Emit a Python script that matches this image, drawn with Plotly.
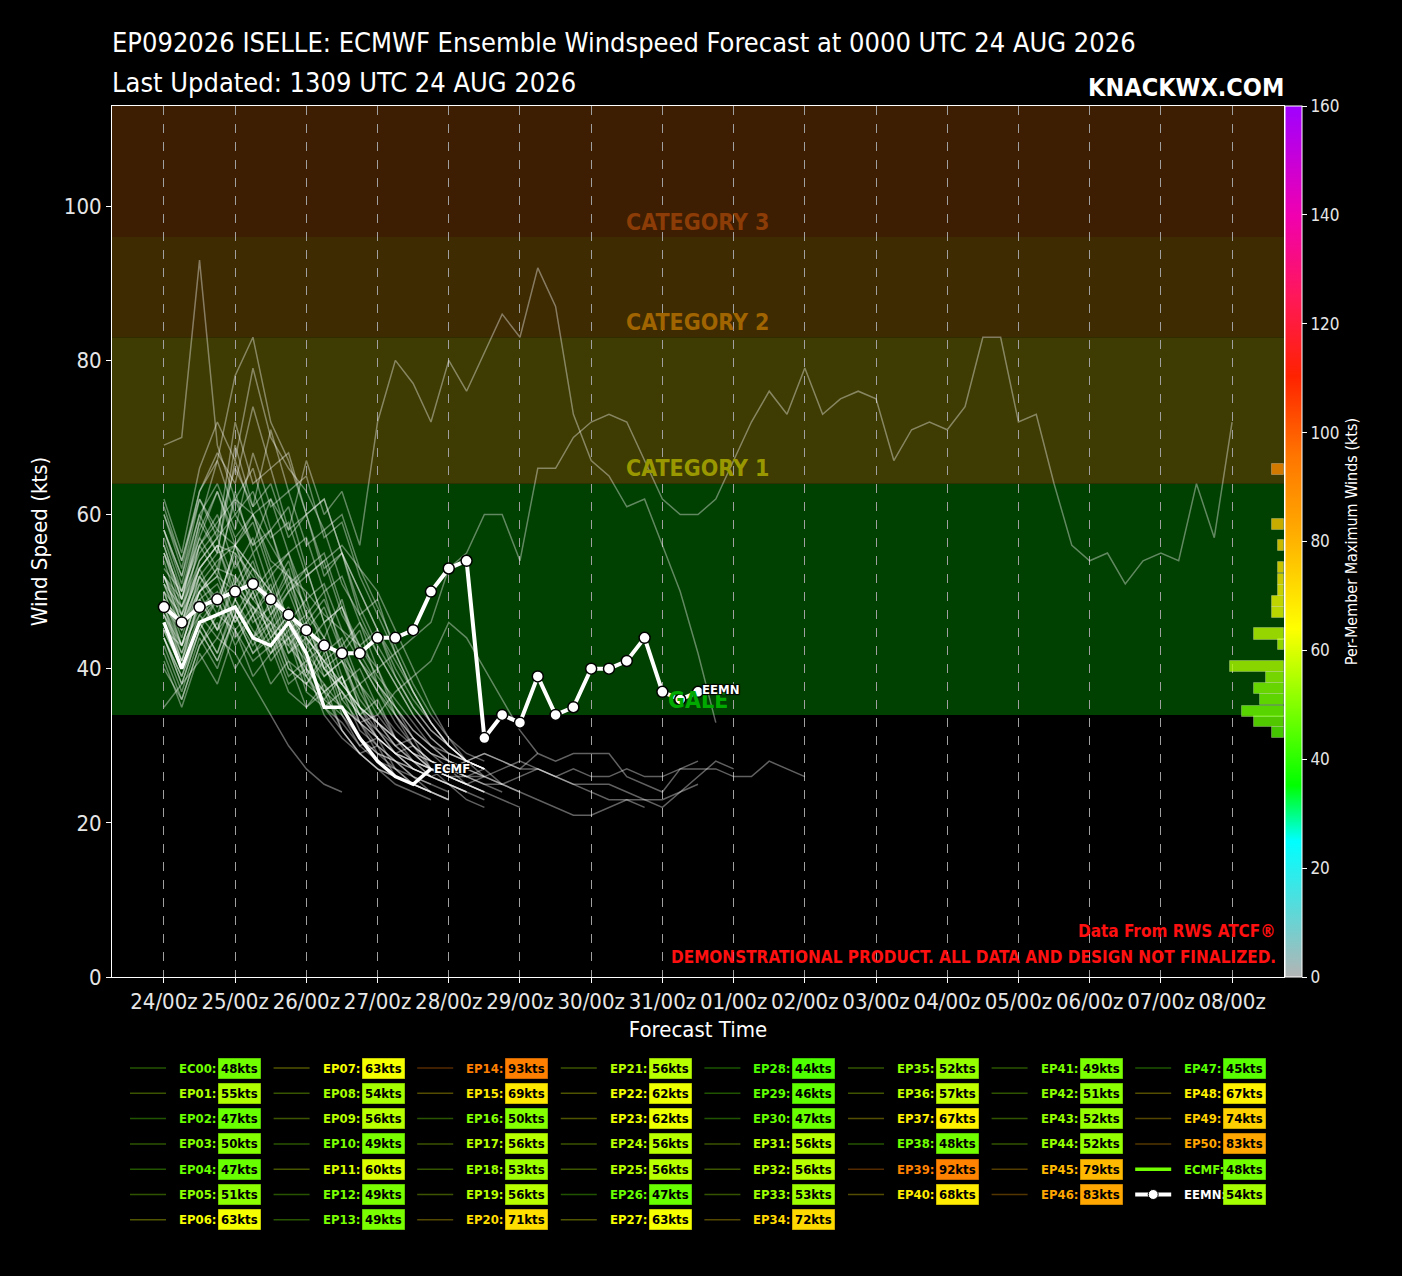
import pandas as pd
import plotly.graph_objects as go
from plotly.colors import sample_colorscale, unlabel_rgb

# ---- data -------------------------------------------------------------
times = pd.date_range("2026-08-24 00:00", periods=61, freq="6h")
tick_days = pd.date_range("2026-08-24", periods=16, freq="D")
tick_labels = ["24/00z", "25/00z", "26/00z", "27/00z", "28/00z", "29/00z", "30/00z", "31/00z",
               "01/00z", "02/00z", "03/00z", "04/00z", "05/00z", "06/00z", "07/00z", "08/00z"]

ecmf = [46, 40, 46, 47, 48, 44, 43, 46, 42, 35, 35, 31, 28, 26, 25, 27]
eemn = [48, 46, 48, 49, 50, 51, 49, 47, 45, 43, 42, 42, 44, 44, 45, 50, 53, 54, 31, 34,
        33, 39, 34, 35, 40, 40, 41, 44, 37, 36, 37]

ec00 = [46, 40, 46, 47, 48, 44, 43, 46, 42, 35, 35, 31, 28, 26, 25, 27]
ep01 = [50, 44, 52, 49, 55, 47, 51, 44, 46, 40, 42, 35, 33, 30, 31, 27, 26, 25, 24]
ep02 = [44, 38, 45, 41, 47, 43, 46, 40, 38, 41, 34, 30, 31, 27, 26, 24, 23]
ep03 = [47, 43, 50, 45, 48, 44, 49, 42, 44, 37, 39, 33, 31, 29, 28, 26, 25, 24]
ep04 = [40, 36, 43, 47, 45, 39, 42, 44, 37, 35, 32, 29, 30, 26, 25, 24, 23]
ep05 = [48, 41, 49, 51, 46, 50, 44, 47, 41, 43, 36, 38, 32, 29, 28, 26, 27, 25, 24]
ep06 = [54, 47, 56, 52, 63, 55, 58, 50, 53, 46, 48, 41, 37, 34, 31, 29, 28, 27]
ep07 = [56, 49, 58, 63, 57, 60, 53, 55, 47, 50, 42, 38, 40, 34, 30, 28, 27, 26]
ep08 = [50, 43, 51, 47, 54, 49, 52, 45, 47, 40, 38, 35, 31, 29, 30, 27, 26, 25]
ep09 = [52, 46, 53, 48, 56, 51, 48, 53, 43, 46, 39, 34, 36, 31, 28, 27, 26, 26, 27, 25, 24]
ep10 = [45, 40, 46, 42, 49, 44, 47, 40, 38, 42, 35, 31, 29, 27, 25, 24, 23]
ep11 = [55, 48, 56, 60, 53, 57, 50, 54, 47, 44, 49, 41, 37, 33, 30, 28, 27, 26]
ep12 = [46, 41, 47, 44, 49, 45, 42, 46, 38, 36, 39, 33, 29, 28, 26, 25, 24]
ep13 = [44, 38, 45, 49, 43, 47, 41, 44, 39, 35, 37, 32, 30, 28, 27, 26]
ep14 = [69, 70, 93, 69, 62, 66, 58, 61, 53, 55, 48, 43, 39, 36, 33, 30, 28, 27]
ep15 = [58, 52, 60, 55, 69, 61, 64, 57, 60, 52, 55, 47, 42, 38, 34, 31, 29, 28, 27]
ep16 = [47, 42, 48, 50, 45, 48, 43, 46, 40, 37, 39, 34, 31, 29, 27, 26, 25, 24]
ep17 = [45, 43, 47, 49, 51, 48, 46, 50, 52, 54, 56, 53, 50, 45, 40, 35, 31, 28, 26, 25]
ep18 = [49, 43, 50, 53, 47, 51, 45, 48, 42, 39, 41, 35, 32, 29, 27, 26, 25, 24, 23]
ep19 = [51, 45, 52, 48, 56, 50, 53, 46, 49, 42, 44, 38, 34, 31, 29, 27, 25, 23, 22]
ep20 = [60, 54, 62, 58, 66, 61, 71, 63, 65, 57, 59, 52, 47, 42, 37, 33, 30, 28, 27]
ep21 = [52, 48, 53, 56, 55, 52, 49, 46, 43, 40, 37, 34, 32, 30, 28, 27, 27, 28, 29, 28,
        27, 29, 28, 29, 29, 29, 26, 25, 24, 27, 27, 27, 26, 26, 28, 27, 26]
ep22 = [55, 49, 57, 53, 62, 56, 58, 51, 53, 46, 48, 42, 38, 35, 31, 29, 28, 27, 26]
ep23 = [53, 50, 56, 59, 62, 60, 56, 52, 48, 44, 41, 38, 35, 32, 30, 28, 27, 26, 26, 25,
        24, 23, 22, 21, 21, 22, 23, 23, 23, 24, 25]
ep24 = [50, 47, 52, 55, 56, 53, 50, 47, 44, 41, 38, 35, 33, 31, 29, 28, 27, 28, 29, 28,
        27, 27, 26, 27, 26, 26, 27, 26, 26, 27, 28]
ep25 = [51, 46, 53, 56, 49, 53, 47, 50, 44, 41, 43, 37, 33, 31, 29, 27, 26, 25, 24, 23, 22]
ep26 = [43, 37, 44, 40, 47, 42, 45, 39, 41, 35, 33, 30, 28, 27, 25, 24]
ep27 = [55, 50, 57, 63, 56, 59, 52, 55, 49, 51, 45, 41, 38, 35, 32, 30, 29, 28, 27]
ep28 = [35, 38, 41, 44, 42, 38, 34, 30, 27, 25, 24]
ep29 = [42, 36, 43, 46, 40, 44, 38, 41, 35, 37, 32, 29, 27, 26, 25, 24]
ep30 = [44, 39, 45, 41, 47, 42, 44, 38, 40, 34, 31, 29, 27, 25, 24, 23]
ep31 = [52, 47, 53, 56, 50, 54, 47, 51, 45, 48, 42, 45, 38, 34, 31, 29, 27, 26, 25, 24]
ep32 = [49, 46, 51, 54, 56, 53, 50, 47, 44, 41, 38, 35, 33, 31, 29, 28, 27, 26, 25, 25,
        26, 27, 26, 25, 24, 23, 23, 22]
ep33 = [48, 45, 50, 53, 52, 49, 46, 44, 41, 38, 35, 33, 34, 37, 39, 41, 46, 44, 40, 36, 32, 29]
ep34 = [58, 52, 62, 57, 72, 64, 66, 58, 60, 53, 55, 48, 43, 39, 35, 32, 30, 28, 27]
ep35 = [48, 42, 49, 45, 52, 47, 50, 43, 46, 40, 37, 34, 31, 29, 27, 26, 25, 24]
ep36 = [52, 46, 54, 57, 51, 55, 48, 52, 46, 49, 43, 46, 40, 35, 32, 30, 28, 27, 26]
ep37 = [57, 50, 59, 55, 67, 60, 62, 55, 57, 50, 52, 46, 42, 38, 34, 31, 29, 28, 27]
ep38 = [44, 39, 46, 42, 48, 44, 46, 41, 39, 43, 36, 33, 30, 28, 27, 26]
ep39 = [51, 48, 54, 57, 60, 56, 62, 58, 67, 60, 63, 56, 72, 80, 77, 72, 80, 76, 81, 86,
        83, 92, 87, 73, 67, 65, 61, 62, 56, 50, 42, 33]
ep40 = [58, 51, 60, 64, 58, 68, 61, 63, 56, 58, 51, 47, 49, 42, 37, 33, 30, 28, 27]
ep41 = [45, 40, 46, 49, 44, 47, 42, 45, 39, 36, 34, 31, 29, 28, 26, 25]
ep42 = [47, 41, 49, 45, 51, 46, 48, 42, 45, 39, 41, 36, 33, 30, 28, 27, 26, 25]
ep43 = [48, 43, 50, 52, 46, 50, 44, 47, 42, 44, 38, 40, 35, 31, 29, 27, 26, 25, 24]
ep44 = [49, 46, 50, 52, 50, 48, 45, 43, 40, 37, 35, 33, 31, 29, 28, 27, 26, 25, 26, 27,
        28, 27, 26, 25, 25, 25, 24, 23, 22, 24, 26, 28, 27]
ep45 = [62, 55, 66, 72, 67, 79, 70, 66, 63, 58, 60, 53, 48, 43, 38, 34, 31, 29, 28]
ep46 = [52, 49, 55, 58, 56, 60, 54, 52, 50, 47, 45, 43, 40, 42, 44, 46, 53, 55, 60, 60,
        54, 66, 66, 70, 72, 73, 72, 67, 62, 60, 60, 62, 67, 72, 76, 73, 79, 73, 75, 76,
        75, 67, 71, 72, 71, 74, 83, 83, 72, 73, 64, 56, 54, 55, 51, 54, 55, 54, 64, 57, 72]
ep47 = [41, 35, 42, 38, 45, 41, 43, 37, 35, 38, 32, 29, 27, 26, 25, 24]
ep48 = [56, 49, 59, 67, 60, 63, 57, 59, 52, 54, 47, 43, 45, 39, 35, 32, 30, 28, 27]
ep49 = [60, 53, 63, 68, 64, 74, 66, 68, 60, 62, 55, 50, 45, 40, 36, 33, 30, 28, 27]
ep50 = [61, 54, 63, 67, 78, 83, 72, 67, 60, 62, 55, 50, 45, 41, 37, 33, 30, 28, 27]

member_names = ["EC00"] + ["EP%02d" % i for i in range(1, 51)]
member_series = [ec00, ep01, ep02, ep03, ep04, ep05, ep06, ep07, ep08, ep09, ep10,
                 ep11, ep12, ep13, ep14, ep15, ep16, ep17, ep18, ep19, ep20,
                 ep21, ep22, ep23, ep24, ep25, ep26, ep27, ep28, ep29, ep30,
                 ep31, ep32, ep33, ep34, ep35, ep36, ep37, ep38, ep39, ep40,
                 ep41, ep42, ep43, ep44, ep45, ep46, ep47, ep48, ep49, ep50]

# histogram on the right edge (kt bins, member counts, peak wind used for colour)
hist_bins = [31.7, 33.1, 34.5, 36.0, 37.4, 38.8, 40.3, 43.1, 44.5, 47.3, 48.7, 50.1,
             51.6, 53.1, 56.0, 58.7, 65.8]
hist_counts = [2, 5, 7, 4, 5, 3, 9, 1, 5, 2, 2, 1, 1, 1, 1, 2, 2]
hist_peak = [45, 47, 48, 49, 50, 52, 55, 56, 57, 62, 63, 65, 67, 69, 72, 75, 90]

band_edges = [34, 64, 83, 96, 113]
band_colors = ["#004000", "#3e3c02", "#3e2b02", "#3e1e02"]
band_names = ["GALE", "CATEGORY 1", "CATEGORY 2", "CATEGORY 3"]
band_label_colors = ["#00a800", "#9a9800", "#a06400", "#8c3c06"]

wind_scale = [[0.0, "#b4b4b4"], [0.156, "#00ffff"], [0.22, "#00ff00"], [0.40, "#ffff00"],
              [0.52, "#ffa500"], [0.60, "#ff7400"], [0.69, "#ff2200"], [0.78, "#ff1858"],
              [0.875, "#f000b0"], [1.0, "#a000ff"]]

FONT = "DejaVu Sans Condensed, DejaVu Sans, sans-serif"


def wind_rgb(v):
    return unlabel_rgb(sample_colorscale(wind_scale, [min(v, 160) / 160])[0])


def rgba(v, a):
    r, g, b = wind_rgb(v)
    return "rgba(%d,%d,%d,%.2f)" % (r, g, b, a)


def px(x):
    return (x - 112) / 1172


def py(y):
    return (977 - y) / 871


fig = go.Figure()

for name, vals in zip(member_names, member_series):
    fig.add_trace(go.Scatter(x=times[:len(vals)], y=vals, mode="lines", name=name,
                             line=dict(color="rgba(255,255,255,0.38)", width=1.5),
                             hoverinfo="skip", showlegend=False))

fig.add_trace(go.Scatter(x=times[:len(ecmf)], y=ecmf, mode="lines", name="ECMF",
                         line=dict(color="white", width=3.5), showlegend=False))
fig.add_trace(go.Scatter(x=times[:len(eemn)], y=eemn, mode="lines+markers", name="EEMN",
                         line=dict(color="white", width=4),
                         marker=dict(size=11, color="white", line=dict(color="black", width=1.5)),
                         showlegend=False))

fig.add_trace(go.Bar(y=hist_bins, x=hist_counts, orientation="h", xaxis="x2", width=1.43,
                     marker=dict(color=[rgba(v, 0.78) for v in hist_peak],
                                 line=dict(color="rgba(255,255,255,0.25)", width=1)),
                     showlegend=False, hoverinfo="skip"))

# colour bar
fig.add_trace(go.Scatter(x=[times[0]], y=[-50], mode="markers", showlegend=False,
                         hoverinfo="skip",
                         marker=dict(color=[0], cmin=0, cmax=160, colorscale=wind_scale,
                                     showscale=True,
                                     colorbar=dict(x=1.0, xanchor="left", xpad=1, y=0.5,
                                                   yanchor="middle", len=1, ypad=0,
                                                   thickness=17, outlinecolor="white",
                                                   outlinewidth=1,
                                                   tickvals=list(range(0, 161, 20)),
                                                   ticks="outside", ticklen=5,
                                                   tickcolor="white",
                                                   tickfont=dict(size=17, color="#e6e6e6"),
                                                   title=dict(text="Per-Member Maximum Winds (kts)",
                                                              side="right",
                                                              font=dict(size=16, color="white"))))))

shapes = []
annotations = []
for i, col in enumerate(band_colors):
    shapes.append(dict(type="rect", xref="paper", x0=0, x1=1, yref="y",
                       y0=band_edges[i], y1=band_edges[i + 1], fillcolor=col,
                       line=dict(width=0), layer="below"))
    annotations.append(dict(x=0.5, xref="paper", y=band_edges[i] + 2, yref="y",
                            text="<b>%s</b>" % band_names[i], showarrow=False,
                            font=dict(size=23, color=band_label_colors[i], family=FONT)))

shadow = "1px 1px 1px black, -1px -1px 1px black, 1px -1px 1px black, -1px 1px 1px black"
annotations.append(dict(x=times[len(ecmf) - 1], y=ecmf[-1], text="<b>ECMF</b>", showarrow=False,
                        xanchor="left", xshift=1, yanchor="middle",
                        font=dict(size=13, color="white", family=FONT, shadow=shadow)))
annotations.append(dict(x=times[len(eemn) - 1], y=eemn[-1], text="<b>EEMN</b>", showarrow=False,
                        xanchor="left", xshift=2, yanchor="middle", yshift=2,
                        font=dict(size=13, color="white", family=FONT, shadow=shadow)))

# titles and notes
annotations += [
    dict(x=px(110), y=py(43), xref="paper", yref="paper", xanchor="left", yanchor="middle",
         text="EP092026 ISELLE: ECMWF Ensemble Windspeed Forecast at 0000 UTC 24 AUG 2026",
         showarrow=False, font=dict(size=27, color="white", family=FONT)),
    dict(x=px(110), y=py(82), xref="paper", yref="paper", xanchor="left", yanchor="middle",
         text="Last Updated: 1309 UTC 24 AUG 2026",
         showarrow=False, font=dict(size=27, color="white", family=FONT)),
    dict(x=px(1286), y=py(87), xref="paper", yref="paper", xanchor="right", yanchor="middle",
         text="<b>KNACKWX.COM</b>", showarrow=False,
         font=dict(size=25, color="white", family=FONT)),
    dict(x=px(1278), y=py(931), xref="paper", yref="paper", xanchor="right", yanchor="middle",
         text="<b>Data From RWS ATCF®</b>", showarrow=False,
         font=dict(size=17, color="#ff1010", family=FONT)),
    dict(x=px(1278), y=py(957), xref="paper", yref="paper", xanchor="right", yanchor="middle",
         text="<b>DEMONSTRATIONAL PRODUCT. ALL DATA AND DESIGN NOT FINALIZED.</b>",
         showarrow=False, font=dict(size=17, color="#ff1010", family=FONT)),
]

# custom legend: 8 columns, filled column-wise
entries = [(n, max(v)) for n, v in zip(member_names, member_series)]
entries += [("ECMF", max(ecmf)), ("EEMN", max(eemn))]
col_sizes = [7, 7, 7, 7, 7, 6, 6, 6]
k = 0
for c, size in enumerate(col_sizes):
    for r in range(size):
        name, peak = entries[k]
        k += 1
        x0 = 130 + 143.6 * c
        yc = 1068 + 25.3 * r
        if name == "ECMF":
            shapes.append(dict(type="line", xref="paper", yref="paper", x0=px(x0), x1=px(x0 + 36),
                               y0=py(yc), y1=py(yc), line=dict(color=rgba(peak, 1), width=3.5)))
            name_col = rgba(peak, 1)
        elif name == "EEMN":
            shapes.append(dict(type="line", xref="paper", yref="paper", x0=px(x0), x1=px(x0 + 36),
                               y0=py(yc), y1=py(yc), line=dict(color="white", width=4)))
            shapes.append(dict(type="circle", xref="paper", yref="paper",
                               x0=px(x0 + 13), x1=px(x0 + 23), y0=py(yc + 5), y1=py(yc - 5),
                               fillcolor="white", line=dict(color="black", width=1)))
            name_col = "white"
        else:
            shapes.append(dict(type="line", xref="paper", yref="paper", x0=px(x0), x1=px(x0 + 36),
                               y0=py(yc), y1=py(yc), line=dict(color=rgba(peak, 0.33), width=1.5)))
            name_col = rgba(peak, 1)
        annotations.append(dict(x=px(x0 + 47), y=py(yc), xref="paper", yref="paper",
                                xanchor="left", yanchor="middle", showarrow=False,
                                text="<b>%s:</b>" % name,
                                font=dict(size=13, color=name_col, family=FONT)))
        annotations.append(dict(x=px(x0 + 88), y=py(yc), xref="paper", yref="paper",
                                xanchor="left", yanchor="middle", showarrow=False,
                                text="<b>%dkts</b>" % peak, bgcolor=rgba(peak, 1),
                                bordercolor=rgba(peak, 0.6), borderwidth=1, borderpad=2,
                                font=dict(size=13, color="black", family=FONT)))

fig.update_layout(
    width=1402, height=1276,
    margin=dict(l=112, r=118, t=106, b=299),
    paper_bgcolor="black", plot_bgcolor="black",
    font=dict(family=FONT, color="white"),
    shapes=shapes, annotations=annotations,
    bargap=0,
    xaxis=dict(type="date", range=["2026-08-23 06:30", "2026-09-08 17:30"],
               tickvals=tick_days, ticktext=tick_labels, tickangle=0,
               tickfont=dict(size=22, color="#e6e6e6"),
               showgrid=True, gridcolor="#a0a0a0", griddash="dash", gridwidth=1,
               showline=True, linecolor="white", linewidth=1, mirror=True,
               ticks="outside", ticklen=5, tickcolor="white", zeroline=False,
               title=dict(text="Forecast Time", font=dict(size=22, color="white"), standoff=8)),
    xaxis2=dict(overlaying="x", range=[195.3, 0], visible=False),
    yaxis=dict(range=[0, 113], tickvals=[0, 20, 40, 60, 80, 100],
               tickfont=dict(size=22, color="#e6e6e6"), showgrid=False,
               showline=True, linecolor="white", linewidth=1, mirror=True,
               ticks="outside", ticklen=5, tickcolor="white", zeroline=False,
               title=dict(text="Wind Speed (kts)", font=dict(size=22, color="white"), standoff=10)),
)

fig.write_html("out.html", config={"displayModeBar": False},
               post_script="document.body.style.margin='0';document.body.style.background='black';")
